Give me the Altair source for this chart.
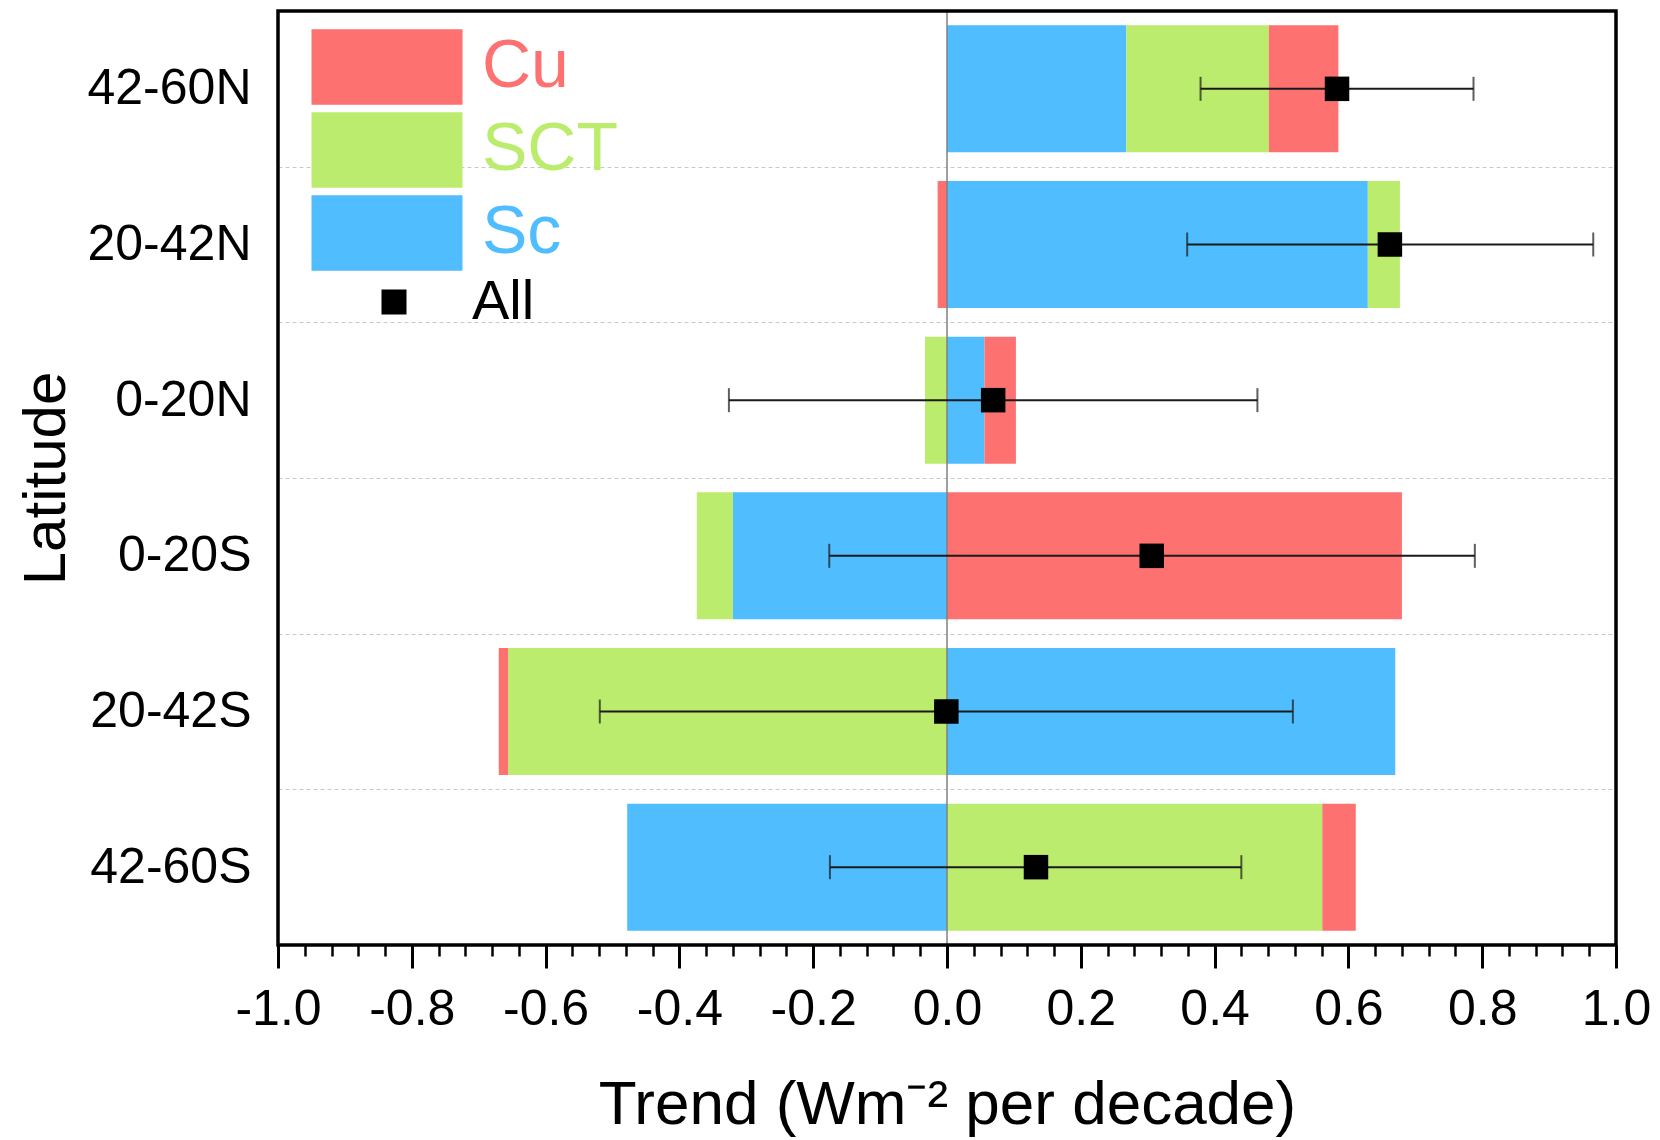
import altair as alt
import pandas as pd

# ---- data ----
lat = ["42-60N", "20-42N", "0-20N", "0-20S", "20-42S", "42-60S"]
sc = [0.268, 0.629, 0.056, -0.320, 0.670, -0.478]
sct = [0.213, 0.048, -0.033, -0.054, -0.656, 0.561]
cu = [0.104, -0.014, 0.047, 0.680, -0.014, 0.050]
all_val = [0.583, 0.662, 0.069, 0.306, -0.001, 0.133]
err_lo = [0.379, 0.359, -0.326, -0.176, -0.519, -0.175]
err_hi = [0.787, 0.966, 0.464, 0.789, 0.517, 0.440]

types = ["Cu", "SCT", "Sc"]
colors = ["#FD7171", "#BCEC6E", "#50BDFF"]
stack_rank = {"Sc": 0, "SCT": 1, "Cu": 2}

x_major = [-1.0, -0.8, -0.6, -0.4, -0.2, 0.0, 0.2, 0.4, 0.6, 0.8, 1.0]
x_minor = [round(-1 + 0.04 * i, 2) for i in range(51)]
x_minor = [v for v in x_minor if all(abs(v - m) > 1e-6 for m in x_major)]

FONT = "Liberation Sans"

rows = []
for i, la in enumerate(lat):
    for t, vals in (("Sc", sc), ("SCT", sct), ("Cu", cu)):
        rows.append({"lat": la, "type": t, "value": vals[i], "rank": stack_rank[t]})
bars_df = pd.DataFrame(rows)

pts_df = pd.DataFrame({"lat": lat, "all": all_val, "lo": err_lo, "hi": err_hi,
                       "series": ["All"] * len(lat)})
caps_df = pd.DataFrame({"lat": lat + lat, "cap": err_lo + err_hi})

y_enc = alt.Y("lat:N", sort=lat,
              scale=alt.Scale(paddingInner=0, paddingOuter=0),
              axis=alt.Axis(title="Latitude", titleFontSize=60, titleFontWeight="normal",
                            titleColor="black", titlePadding=10,
                            labelFontSize=50, labelColor="black", labelPadding=27,
                            ticks=False, domain=False, grid=True, tickBand="extent",
                            gridDash=[4, 3], gridColor="#c8c8c8", gridWidth=1))

x_scale = alt.Scale(domain=[-1, 1], nice=False, zero=False)

x_axis_major = alt.Axis(orient="bottom", values=x_major,
                        labelExpr="(datum.value < -1e-9 ? '-' : '') + format(abs(datum.value), '.1f')",
                        tickSize=23, tickWidth=3, tickColor="black",
                        labelFontSize=50, labelColor="black", labelPadding=16,
                        labelFlush=False, labelOverlap=False, labelBound=False,
                        domain=False, grid=False,
                        title="Trend (Wm\u207b\u00b2 per decade)", titleFontSize=62,
                        titleFontWeight="normal", titleColor="black", titlePadding=40)

x_axis_minor = alt.Axis(orient="bottom", values=x_minor, labels=False, tickSize=11,
                        tickWidth=2.5, tickColor="black", domain=False, grid=False,
                        title=None)

color_legend = alt.Legend(title=None, orient="none", legendX=71, legendY=18,
                          symbolType="M-2,-1H2V1H-2Z", symbolSize=5700,
                          symbolStrokeWidth=0, symbolOpacity=1,
                          labelFontSize=68, labelOffset=57, rowPadding=7, padding=0,
                          labelFont=FONT, labelLimit=500,
                          labelColor={"expr": "datum.label == 'Cu' ? '#FD7171' : (datum.label == 'SCT' ? '#BCEC6E' : '#50BDFF')"})

all_legend = alt.Legend(title=None, orient="none", legendX=88, legendY=263,
                        symbolSize=625, symbolFillColor="black", symbolStrokeWidth=0,
                        symbolOpacity=1, labelFontSize=56, labelOffset=50,
                        labelColor="black", labelFont=FONT, padding=0, labelLimit=500)

bars = alt.Chart(bars_df).mark_bar(height=alt.RelativeBandSize(0.816)).encode(
    x=alt.X("value:Q", stack="zero", scale=x_scale, axis=x_axis_major),
    y=y_enc,
    color=alt.Color("type:N", scale=alt.Scale(domain=types, range=colors), legend=color_legend),
    order=alt.Order("rank:Q"),
)

zero_line = alt.Chart(pd.DataFrame({"z": [0.0]})).mark_rule(
    color="#808080", strokeWidth=1.5).encode(
    x=alt.X("z:Q", scale=x_scale, axis=x_axis_minor))

err_line = alt.Chart(pts_df).mark_rule(color="#1a1a1a", strokeWidth=2).encode(
    x=alt.X("lo:Q", scale=x_scale, axis=None), x2="hi:Q",
    y=alt.Y("lat:N", sort=lat))

caps = alt.Chart(caps_df).mark_tick(color="#1a1a1a", thickness=2, size=24,
                                    orient="vertical").encode(
    x=alt.X("cap:Q", scale=x_scale, axis=None),
    y=alt.Y("lat:N", sort=lat))

points = alt.Chart(pts_df).mark_point(shape="square", filled=True, size=600,
                                       opacity=1, color="black").encode(
    x=alt.X("all:Q", scale=x_scale, axis=None),
    y=alt.Y("lat:N", sort=lat),
    shape=alt.Shape("series:N", scale=alt.Scale(domain=["All"], range=["square"]),
                    legend=all_legend),
)

# plot frame drawn on top of the gridlines
frame = alt.Chart(pd.DataFrame({"f": [0]})).mark_rect(
    fill=None, stroke="black", strokeWidth=3.5).encode(
    x=alt.value(0), x2=alt.value("width"), y=alt.value(0), y2=alt.value("height"))

chart = alt.layer(bars, zero_line, err_line, caps, points, frame).resolve_axis(
    x="independent"
).properties(
    width=1338, height=934,
    padding={"left": 278, "top": 11, "right": 44, "bottom": 195},
    autosize=alt.AutoSizeParams(type="none"),
).configure(font=FONT).configure_view(stroke=None)

chart.save("out.html", embed_options={"renderer": "svg", "actions": False})
